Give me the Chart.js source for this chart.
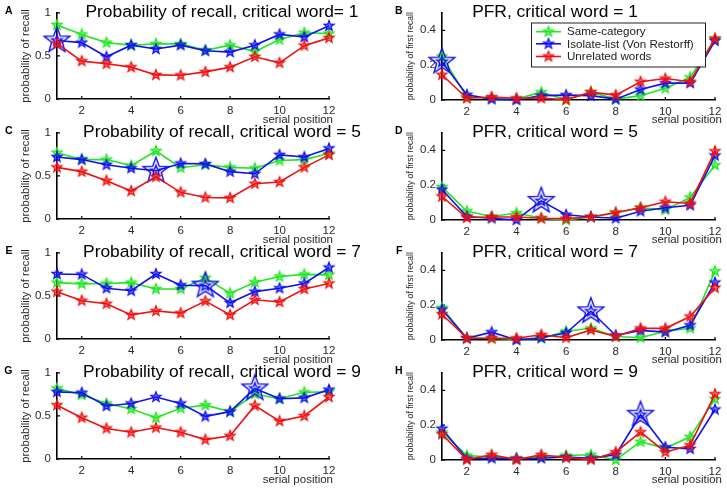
<!DOCTYPE html>
<html><head><meta charset="utf-8">
<script src="https://cdn.jsdelivr.net/npm/chart.js@4.4.1/dist/chart.umd.min.js"></script>
<style>
html,body{margin:0;padding:0;background:#fff;width:727px;height:488px;overflow:hidden;position:relative}
canvas{position:absolute}
</style></head><body>
<canvas id="cA" width="363" height="128" style="left:0;top:0"></canvas>
<canvas id="cB" width="364" height="128" style="left:363px;top:0"></canvas>
<canvas id="cC" width="363" height="128" style="left:0;top:120px"></canvas>
<canvas id="cD" width="364" height="128" style="left:363px;top:120px"></canvas>
<canvas id="cE" width="363" height="128" style="left:0;top:240px"></canvas>
<canvas id="cF" width="364" height="128" style="left:363px;top:240px"></canvas>
<canvas id="cG" width="363" height="128" style="left:0;top:360px"></canvas>
<canvas id="cH" width="364" height="128" style="left:363px;top:360px"></canvas>
<script>
// ---------- data ----------
const serialPositions = [1,2,3,4,5,6,7,8,9,10,11,12];
const xTickValues = [2,4,6,8,10,12];
const recallTicks = [0,0.5,1];
const pfrTicks = [0,0.2,0.4];
const seriesNames = ['Same-category','Isolate-list (Von Restorff)','Unrelated words'];
const criticalWords = [1,5,7,9];

// Probability of recall
const recallSame1      = [0.86,0.75,0.655,0.625,0.64,0.64,0.565,0.625,0.55,0.69,0.77,0.76];
const recallIsolate1   = [0.68,0.655,0.49,0.625,0.58,0.625,0.56,0.545,0.625,0.75,0.72,0.85];
const recallUnrelated1 = [0.645,0.44,0.41,0.37,0.28,0.275,0.315,0.37,0.49,0.42,0.62,0.71];

const recallSame5      = [0.77,0.69,0.69,0.62,0.79,0.595,0.63,0.6,0.59,0.68,0.69,0.76];
const recallIsolate5   = [0.72,0.69,0.63,0.59,0.56,0.645,0.64,0.55,0.525,0.745,0.72,0.82];
const recallUnrelated5 = [0.6,0.55,0.445,0.325,0.49,0.31,0.25,0.245,0.41,0.43,0.6,0.745];

const recallSame7      = [0.655,0.64,0.645,0.655,0.58,0.58,0.71,0.53,0.66,0.725,0.75,0.745];
const recallIsolate7   = [0.755,0.75,0.59,0.56,0.755,0.625,0.62,0.42,0.55,0.59,0.645,0.83];
const recallUnrelated7 = [0.55,0.445,0.41,0.28,0.325,0.3,0.44,0.28,0.455,0.43,0.58,0.645];

const recallSame9      = [0.82,0.745,0.645,0.58,0.48,0.59,0.625,0.55,0.755,0.7,0.775,0.78];
const recallIsolate9   = [0.78,0.77,0.615,0.645,0.72,0.645,0.495,0.55,0.82,0.7,0.71,0.805];
const recallUnrelated9 = [0.625,0.48,0.355,0.31,0.365,0.31,0.225,0.27,0.62,0.44,0.5,0.72];

// Probability of first recall
const pfrSame1      = [0.25,0.017,0.01,0.005,0.045,0,0.045,0.005,0.025,0.067,0.13,0.35];
const pfrIsolate1   = [0.22,0.03,0.005,0,0.025,0.028,0.025,0.005,0.06,0.097,0.097,0.34];
const pfrUnrelated1 = [0.145,0.01,0.017,0.01,0.01,0.002,0.045,0.028,0.105,0.123,0.105,0.353];

const pfrSame5      = [0.19,0.05,0.02,0.04,0.01,0,0.017,0.04,0.07,0.058,0.13,0.315];
const pfrIsolate5   = [0.175,0.02,0.01,0,0.11,0.03,0.017,0.01,0.05,0.07,0.085,0.37];
const pfrUnrelated5 = [0.135,0.013,0.017,0.017,0.01,0.008,0.017,0.043,0.07,0.105,0.095,0.395];

const pfrSame7      = [0.185,0.01,0.01,0.004,0.01,0.05,0.067,0.02,0.013,0.05,0.067,0.395];
const pfrIsolate7   = [0.175,0.01,0.045,0,0.013,0.04,0.165,0.026,0.055,0.045,0.085,0.33];
const pfrUnrelated7 = [0.148,0.01,0.01,0.01,0.03,0.013,0.058,0.02,0.067,0.067,0.135,0.3];

const pfrSame9      = [0.16,0.026,0.017,0.008,0.017,0.026,0.03,0,0.105,0.067,0.133,0.35];
const pfrIsolate9   = [0.18,0.008,0.01,0.008,0.01,0.017,0.01,0.03,0.26,0.073,0.064,0.29];
const pfrUnrelated9 = [0.148,0.002,0.03,0.002,0.03,0.013,0.002,0.045,0.16,0.045,0.085,0.378];

// ---------- styling ----------
const FONT = '"Liberation Sans", Arial, sans-serif';
const COL_G = '#22e622', COL_B = '#1010f0', COL_R = '#f01010';

function starCanvas(color, r, lw, innerR, fillAlpha) {
  const size = 2 * Math.ceil(r + lw + 1);
  const c = document.createElement('canvas');
  c.width = c.height = size;
  const g = c.getContext('2d');
  const cx = size / 2, cy = size / 2;
  function path(R) {
    g.beginPath();
    for (let k = 0; k < 10; k++) {
      const rad = k % 2 === 0 ? R : R * 0.42;
      const a = -Math.PI / 2 + k * Math.PI / 5;
      const px = cx + rad * Math.cos(a), py = cy + rad * Math.sin(a);
      if (k) g.lineTo(px, py); else g.moveTo(px, py);
    }
    g.closePath();
  }
  g.strokeStyle = color; g.lineWidth = lw; g.lineJoin = 'miter';
  path(r);
  if (fillAlpha) { g.globalAlpha = fillAlpha; g.fillStyle = color; g.fill(); g.globalAlpha = 1; }
  g.stroke();
  if (innerR) { path(innerR); g.stroke(); }
  return c;
}
const starG = starCanvas(COL_G, 5.2, 1.3, 0, 0.55);
const starB = starCanvas(COL_B, 5.2, 1.3, 0, 0.55);
const starR = starCanvas(COL_R, 5.2, 1.3, 0, 0.55);
const starBig = starCanvas(COL_B, 13.5, 1.4, 5.5, 0.08);

const panels = [
  {id:'cA', letter:'A', kind:'recall', title:'Probability of recall, critical word= 1', cw:criticalWords[0], s:[recallSame1, recallIsolate1, recallUnrelated1]},
  {id:'cB', letter:'B', kind:'pfr', title:'PFR, critical word = 1', cw:criticalWords[0], s:[pfrSame1, pfrIsolate1, pfrUnrelated1], legend:true},
  {id:'cC', letter:'C', kind:'recall', title:'Probability of recall, critical word = 5', cw:criticalWords[1], s:[recallSame5, recallIsolate5, recallUnrelated5]},
  {id:'cD', letter:'D', kind:'pfr', title:'PFR, critical word = 5', cw:criticalWords[1], s:[pfrSame5, pfrIsolate5, pfrUnrelated5]},
  {id:'cE', letter:'E', kind:'recall', title:'Probability of recall, critical word = 7', cw:criticalWords[2], s:[recallSame7, recallIsolate7, recallUnrelated7]},
  {id:'cF', letter:'F', kind:'pfr', title:'PFR, critical word = 7', cw:criticalWords[2], s:[pfrSame7, pfrIsolate7, pfrUnrelated7]},
  {id:'cG', letter:'G', kind:'recall', title:'Probability of recall, critical word = 9', cw:criticalWords[3], s:[recallSame9, recallIsolate9, recallUnrelated9]},
  {id:'cH', letter:'H', kind:'pfr', title:'PFR, critical word = 9', cw:criticalWords[3], s:[pfrSame9, pfrIsolate9, pfrUnrelated9]}
];

function toPoints(arr) { return serialPositions.map((x, i) => ({x: x, y: arr[i]})); }

function decorPlugin(p) {
  const isR = p.kind === 'recall';
  return {
    id: 'decor',
    beforeDatasetsDraw(chart) {
      // inward tick marks
      const ctx = chart.ctx, xs = chart.scales.x, ys = chart.scales.y, a = chart.chartArea;
      ctx.save();
      ctx.strokeStyle = '#000'; ctx.lineWidth = 1.2;
      ctx.beginPath();
      xTickValues.forEach(v => { const px = xs.getPixelForValue(v); ctx.moveTo(px, a.bottom); ctx.lineTo(px, a.bottom - 3); });
      (isR ? recallTicks : pfrTicks).forEach(v => { const py = ys.getPixelForValue(v); ctx.moveTo(a.left, py); ctx.lineTo(a.left + 3, py); });
      ctx.stroke();
      ctx.restore();
    },
    afterDraw(chart) {
      const ctx = chart.ctx;
      ctx.save();
      ctx.fillStyle = '#000';
      // title
      ctx.font = '17.4px ' + FONT;
      ctx.textAlign = 'center'; ctx.textBaseline = 'alphabetic';
      ctx.fillText(p.title, isR ? 222 : 192, 16.5);
      // panel letter
      ctx.font = 'bold 10.5px ' + FONT;
      ctx.textAlign = 'right';
      ctx.fillText(p.letter, isR ? 12.5 : 39.5, 14);
      // y label
      ctx.save();
      ctx.translate(isR ? 26 : 48, 56);
      ctx.rotate(-Math.PI / 2);
      ctx.textAlign = 'center'; ctx.textBaseline = 'middle';
      ctx.fillStyle = '#2a2a2a';
      ctx.font = (isR ? '11.2px ' : '8.6px ') + FONT;
      ctx.fillText(isR ? 'probability of recall' : 'probability of first recall', 0, 0);
      ctx.restore();
      // x label
      ctx.font = '11.5px ' + FONT;
      ctx.fillStyle = '#2a2a2a';
      ctx.textAlign = 'right'; ctx.textBaseline = 'alphabetic';
      ctx.fillText('serial position', isR ? 333 : 359, 122.5);
      // legend
      if (p.legend) {
        const bx = 168, by = 22.5, bw = 174, bh = 44;
        ctx.fillStyle = '#fff';
        ctx.fillRect(bx, by, bw, bh);
        ctx.strokeStyle = '#222'; ctx.lineWidth = 1;
        ctx.strokeRect(bx + 0.5, by + 0.5, bw, bh);
        const cols = [COL_G, COL_B, COL_R];
        const stars = [starG, starB, starR];
        const rows = [31.7, 43.8, 56.5];
        ctx.font = '11.6px ' + FONT;
        ctx.textAlign = 'left'; ctx.textBaseline = 'middle';
        for (let i = 0; i < 3; i++) {
          ctx.strokeStyle = cols[i]; ctx.lineWidth = 1.6;
          ctx.beginPath(); ctx.moveTo(173, rows[i]); ctx.lineTo(198, rows[i]); ctx.stroke();
          ctx.drawImage(stars[i], 185.5 - stars[i].width / 2, rows[i] - stars[i].height / 2);
          ctx.fillStyle = '#1a1a1a';
          ctx.fillText(seriesNames[i], 204, rows[i] + 0.5);
        }
      }
      ctx.restore();
    }
  };
}

panels.forEach(p => {
  const isR = p.kind === 'recall';
  const cw = p.cw;
  const ds = (arr, color, star, order, isBlue) => ({
    label: '',
    data: toPoints(arr),
    borderColor: color,
    backgroundColor: color,
    borderWidth: 1.6,
    tension: 0,
    clip: false,
    order: order,
    pointRadius: 4,
    pointStyle: (c) => (isBlue && c.dataIndex === cw - 1) ? starBig : star
  });
  new Chart(document.getElementById(p.id), {
    type: 'line',
    data: {
      datasets: [
        ds(p.s[2], COL_R, starR, 0, false),
        ds(p.s[1], COL_B, starB, 1, true),
        ds(p.s[0], COL_G, starG, 2, false)
      ]
    },
    options: {
      responsive: false,
      animation: false,
      events: [],
      layout: { padding: { left: 0, top: 10, right: isR ? 34 : 12, bottom: 0 } },
      plugins: { legend: { display: false }, tooltip: { enabled: false }, title: { display: false } },
      scales: {
        x: {
          type: 'linear', min: 1, max: 12,
          afterBuildTicks: s => { s.ticks = xTickValues.map(v => ({value: v})); },
          afterFit: s => { s.height = isR ? 29 : 28; },
          grid: { display: false, drawTicks: false },
          border: { display: true, color: '#000', width: 1.6 },
          ticks: { padding: 5, color: '#2a2a2a', font: { family: FONT, size: 11.5 }, maxRotation: 0, autoSkip: false }
        },
        y: {
          type: 'linear', min: 0, max: isR ? 1 : 0.5,
          afterBuildTicks: s => { s.ticks = (isR ? recallTicks : pfrTicks).map(v => ({value: v})); },
          afterFit: s => { s.width = isR ? 57 : 79; },
          grid: { display: false, drawTicks: false },
          border: { display: true, color: '#000', width: 1.6 },
          ticks: { padding: 6, color: '#2a2a2a', font: { family: FONT, size: 11.5 }, callback: v => String(v) }
        }
      }
    },
    plugins: [decorPlugin(p)]
  });
});
</script>
</body></html>
